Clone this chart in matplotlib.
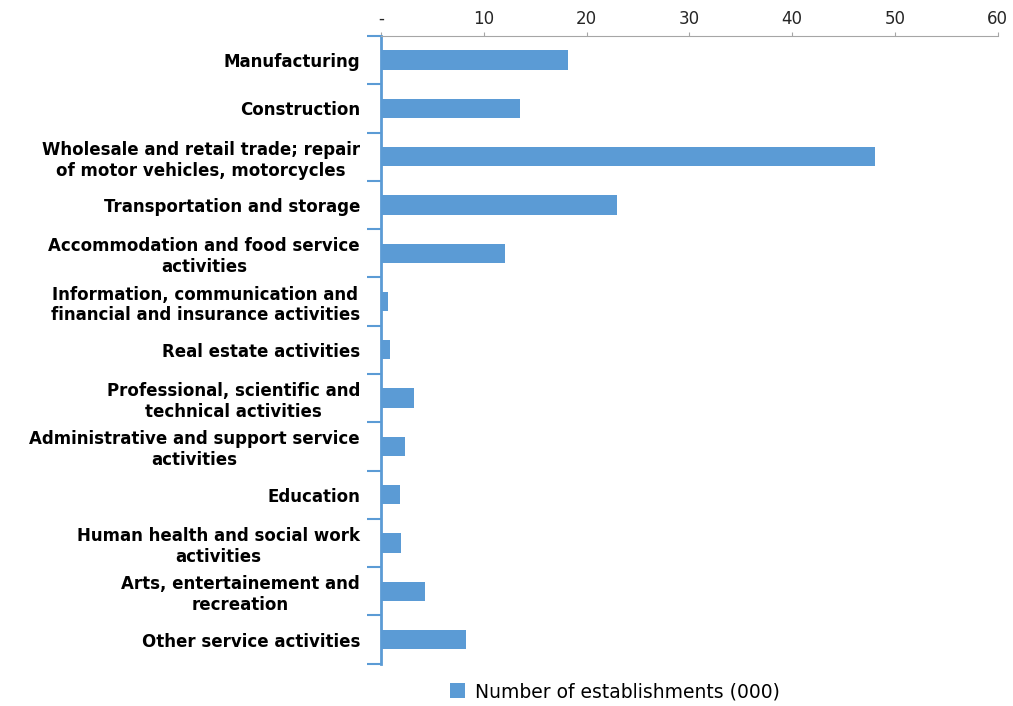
import numpy as np
import matplotlib.pyplot as plt
from matplotlib.ticker import FixedLocator

plt.rcParams['font.family'] = ['DejaVu Sans']

# sectors, top to bottom
sectors = [
    "Manufacturing",
    "Construction",
    "Wholesale and retail trade; repair\nof motor vehicles, motorcycles",
    "Transportation and storage",
    "Accommodation and food service\nactivities",
    "Information, communication and\nfinancial and insurance activities",
    "Real estate activities",
    "Professional, scientific and\ntechnical activities",
    "Administrative and support service\nactivities",
    "Education",
    "Human health and social work\nactivities",
    "Arts, entertainement and\nrecreation",
    "Other service activities",
]
establishments = [18.2, 13.5, 48.1, 23.0, 12.1, 0.65, 0.9, 3.25, 2.35, 1.9, 2.0, 4.25, 8.3]
xticks = [0, 10, 20, 30, 40, 50, 60]
xtick_labels = ["-", "10", "20", "30", "40", "50", "60"]

blue = "#5B9BD5"

fig = plt.figure(figsize=(10.13, 7.06), dpi=100)
ax = fig.add_axes([0.376, 0.06, 0.609, 0.889])

y = np.arange(len(sectors))
ax.barh(y, establishments, height=0.4, color=blue,
        label="Number of establishments (000)")

ax.set_ylim(len(sectors) - 0.5, -0.5)
ax.set_xlim(0, 60)

# value axis on top
ax.xaxis.tick_top()
ax.set_xticks(xticks)
ax.set_xticklabels(xtick_labels, fontsize=12, color="#262626")
ax.tick_params(axis="x", direction="out", length=3, color="#A6A6A6", pad=3)

# category labels with ticks between the categories
ax.set_yticks(y)
ax.set_yticklabels(sectors, fontsize=12, fontweight="bold", ha="right",
                   multialignment="center")
ax.tick_params(axis="y", which="major", length=0, pad=15)
ax.yaxis.set_minor_locator(FixedLocator(np.arange(-0.5, len(sectors), 1)))
ax.tick_params(axis="y", which="minor", length=10, width=1.5, color=blue)

for s in ["right", "bottom"]:
    ax.spines[s].set_visible(False)
ax.spines["top"].set_color("#A6A6A6")
ax.spines["left"].set_color(blue)
ax.spines["left"].set_linewidth(2)

fig.legend(loc="lower center", bbox_to_anchor=(0.607, -0.017), frameon=False,
           fontsize=13.5, handlelength=0.8, handleheight=0.8, handletextpad=0.5)

fig.savefig("out.png", dpi=100)
